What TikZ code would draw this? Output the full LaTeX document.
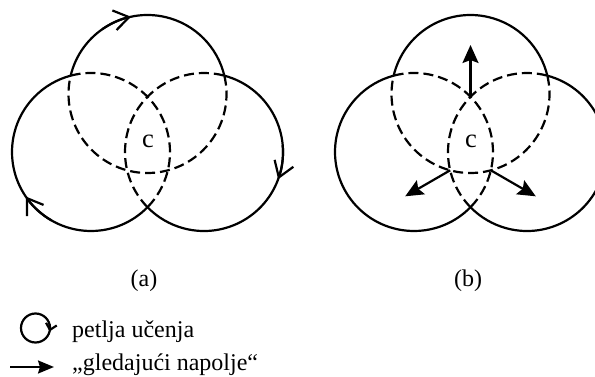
\documentclass[tikz,border=0pt]{standalone}
\usepackage{fontspec}
\setmainfont{Liberation Serif}
\usetikzlibrary{arrows.meta}
\begin{document}
\begin{tikzpicture}[x=1pt,y=-1pt,
  solidline/.style={line width=2.2pt},
  dashline/.style={line width=2.2pt, dash pattern=on 10pt off 5pt},
  loopbarb/.style={line width=2.2pt,-{Straight Barb[length=15pt,width=20pt]}},
  smallbarb/.style={line width=2.2pt,-{Straight Barb[length=6pt,width=11pt]}},
  outarrow/.style={line width=2.2pt,-{Stealth[length=18pt,width=16pt,inset=3pt]}},
  legarrow/.style={line width=2.2pt,-{Stealth[length=16pt,width=13pt,inset=2pt]}},
  lbl/.style={font=\fontsize{24}{28}\selectfont, inner sep=0pt},
  clbl/.style={font=\fontsize{26.5}{30}\selectfont, inner sep=0pt}
]
\useasboundingbox (0,0) rectangle (595,377);
\clip (0,0) rectangle (595,377);

% ---------- (a) ----------
\begin{scope}
  \coordinate (Ta) at (147.5,94);
  \coordinate (La) at (91,152);
  \coordinate (Ra) at (204,152);
  \draw[solidline] (Ta) ++(193.4:79) arc[start angle=193.4, end angle=346.6, radius=79];
  \draw[dashline]  (Ta) ++(-13.4:79) arc[start angle=-13.4, end angle=193.4, radius=79];
  \draw[solidline] (La) ++(44.3:79) arc[start angle=44.3, end angle=255.1, radius=79];
  \draw[dashline]  (La) ++(255.1:79) arc[start angle=255.1, end angle=404.3, radius=79];
  \draw[solidline] (Ra) ++(-75.1:79) arc[start angle=-75.1, end angle=135.7, radius=79];
  \draw[dashline]  (Ra) ++(135.7:79) arc[start angle=135.7, end angle=284.9, radius=79];
  % loop arrows (clockwise)
  \draw[loopbarb] (Ta) ++(235:79) arc[start angle=235, end angle=258, radius=79];
  \draw[loopbarb] (Ra) ++(-5:79) arc[start angle=-5, end angle=20.2, radius=79];
  \draw[loopbarb] (La) ++(120:79) arc[start angle=120, end angle=145.7, radius=79];
  \node[clbl, anchor=base] (ca) at (148,147.5) {c};
  \node[lbl, anchor=base] (capa) at (144,287) {(a)};
\end{scope}

% ---------- (b) ----------
\begin{scope}[xshift=323pt]
  \coordinate (Tb) at (147.5,94);
  \coordinate (Lb) at (91,152);
  \coordinate (Rb) at (204,152);
  \draw[solidline] (Tb) ++(193.4:79) arc[start angle=193.4, end angle=346.6, radius=79];
  \draw[dashline]  (Tb) ++(-13.4:79) arc[start angle=-13.4, end angle=193.4, radius=79];
  \draw[solidline] (Lb) ++(44.3:79) arc[start angle=44.3, end angle=255.1, radius=79];
  \draw[dashline]  (Lb) ++(255.1:79) arc[start angle=255.1, end angle=404.3, radius=79];
  \draw[solidline] (Rb) ++(-75.1:79) arc[start angle=-75.1, end angle=135.7, radius=79];
  \draw[dashline]  (Rb) ++(135.7:79) arc[start angle=135.7, end angle=284.9, radius=79];
  \coordinate (ub0) at (147.5,96.8);
  \coordinate (ub1) at (147.5,45);
  \coordinate (lb0) at (127.2,170.3);
  \coordinate (lb1) at (82.2,196.3);
  \coordinate (rb0) at (167.8,170.3);
  \coordinate (rb1) at (212.8,196.3);
  \draw[outarrow] (ub0) -- (ub1);
  \draw[outarrow] (lb0) -- (lb1);
  \draw[outarrow] (rb0) -- (rb1);
  \node[clbl, anchor=base] (cb) at (148,147.5) {c};
  \node[lbl, anchor=base] (capb) at (145,287) {(b)};
\end{scope}

% ---------- legend ----------
\coordinate (LC) at (35.5,328);
\draw[solidline] (LC) circle[radius=14.5];
\draw[smallbarb] (LC) ++(-15:14.5) arc[start angle=-15, end angle=14, radius=14.5];
\coordinate (la0) at (10,367);
\coordinate (la1) at (54,367);
\draw[legarrow] (la0) -- (la1);
\node[lbl, anchor=base west] (leg1) at (72,337) {petlja učenja};
\node[lbl, anchor=base west] (leg2) at (72,370.5) {„gledajući napolje“};
\end{tikzpicture}
\end{document}
